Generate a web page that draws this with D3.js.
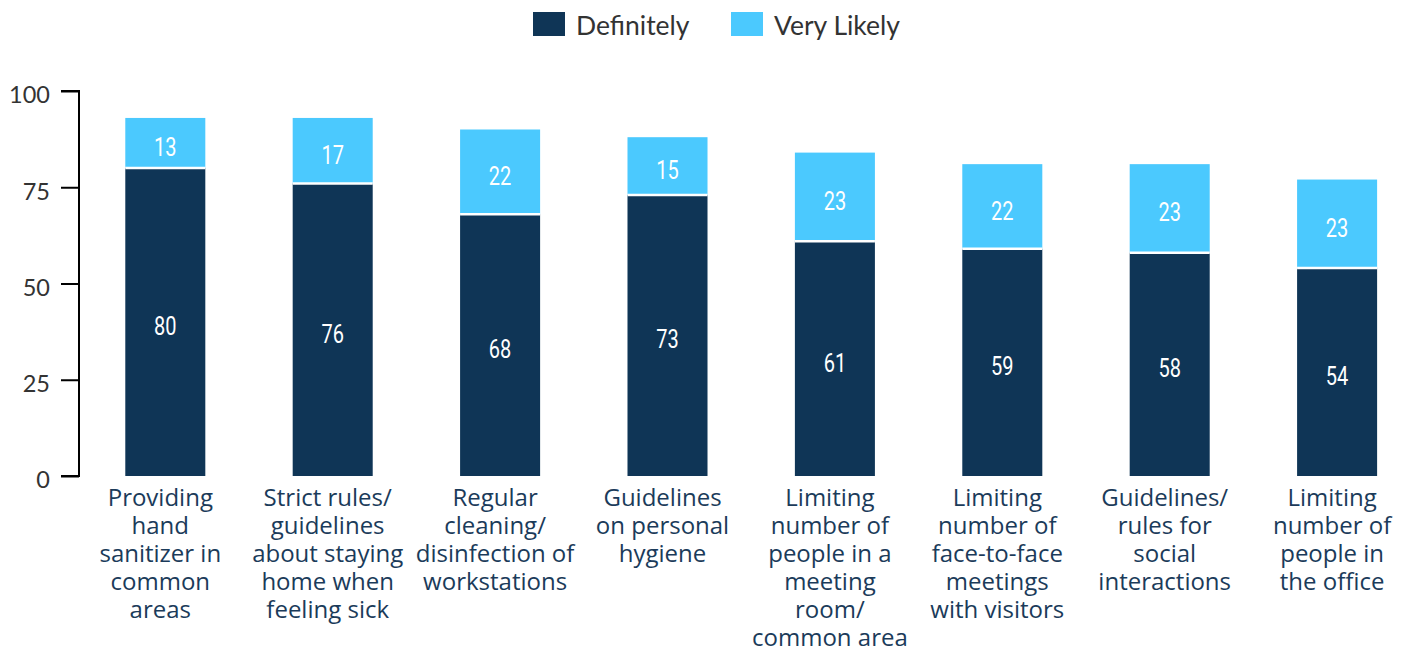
<!DOCTYPE html>
<html>
<head>
<meta charset="utf-8">
<script src="https://cdn.jsdelivr.net/npm/d3@7"></script>
<style>
	body { margin: 0; background: #fff; }
	svg { display: block; }
</style>
</head>
<body>
<svg id="chart"></svg>
<script>
var categories = [
	['Providing', 'hand', 'sanitizer in', 'common', 'areas'],
	['Strict rules/', 'guidelines', 'about staying', 'home when', 'feeling sick'],
	['Regular', 'cleaning/', 'disinfection of', 'workstations'],
	['Guidelines', 'on personal', 'hygiene'],
	['Limiting', 'number of', 'people in a', 'meeting', 'room/', 'common area'],
	['Limiting', 'number of', 'face-to-face', 'meetings', 'with visitors'],
	['Guidelines/', 'rules for', 'social', 'interactions'],
	['Limiting', 'number of', 'people in', 'the office']
];
var definitely = [80, 76, 68, 73, 61, 59, 58, 54];
var veryLikely = [13, 17, 22, 15, 23, 22, 23, 23];
var seriesNames = ['Definitely', 'Very Likely'];
var seriesColors = ['#0f3556', '#4bc9fe'];
var yTicks = [0, 25, 50, 75, 100];

window.onload = function init() {
	'use strict';

	var width = 1403,
		height = 647,
		svg = d3.select('svg#chart').attr('width', width).attr('height', height);

	var x = d3.scaleBand()
		.domain(d3.range(categories.length))
		.range([81.6, 1420.8])
		.paddingInner(0.522)
		.paddingOuter(0.261);

	var y = d3.scaleLinear().domain([0, 100]).range([476, 91]);

	// y axis
	var yAxis = svg.append('g')
		.attr('transform', 'translate(79,0)')
		.call(d3.axisLeft(y).tickValues(yTicks).tickSize(18).tickPadding(11));
	yAxis.selectAll('path, line').attr('stroke', '#000').attr('stroke-width', 2);
	yAxis.select('.domain').attr('d', 'M-18,' + y(100) + 'H0V' + y(0) + 'H-18');
	yAxis.selectAll('text')
		.attr('fill', '#333')
		.attr('dy', '0.5em')
		.style('font-family', 'Lato, sans-serif')
		.style('font-size', '23.5px');

	// stacked bars
	var rows = definitely.map(function(d, i) {
		return { i: i, segs: [
			{ i: i, s: 0, y0: 0, y1: d, v: d },
			{ i: i, s: 1, y0: d, y1: d + veryLikely[i], v: veryLikely[i] }
		] };
	});

	var groups = svg.append('g').selectAll('g.bar').data(rows).enter()
		.append('g').attr('class', 'bar');

	groups.selectAll('rect').data(function(r) { return r.segs; }).enter().append('rect')
		.attr('x', function(d) { return x(d.i); })
		.attr('width', x.bandwidth())
		.attr('y', function(d) { return y(d.y1); })
		.attr('height', function(d) { return y(d.y0) - y(d.y1); })
		.attr('fill', function(d) { return seriesColors[d.s]; });

	// white separator between the two segments
	groups.append('line')
		.attr('x1', function(d) { return x(d.i); })
		.attr('x2', function(d) { return x(d.i) + x.bandwidth(); })
		.attr('y1', function(d) { return y(definitely[d.i]); })
		.attr('y2', function(d) { return y(definitely[d.i]); })
		.attr('stroke', '#fff')
		.attr('stroke-width', 2.5);

	groups.selectAll('text').data(function(r) { return r.segs; }).enter().append('text')
		.attr('transform', function(d) {
			return 'translate(' + (x(d.i) + x.bandwidth() / 2) + ',' + ((y(d.y0) + y(d.y1)) / 2 + 4) + ') scale(0.8,1)';
		})
		.attr('dy', '0.36em')
		.attr('text-anchor', 'middle')
		.attr('fill', '#fff')
		.style('font-family', 'Roboto, sans-serif')
		.style('font-size', '25px')
		.text(function(d) { return d.v; });

	// category labels (sit a little left of the bar centre, as in the source)
	var labels = svg.append('g').selectAll('text').data(categories).enter().append('text')
		.attr('text-anchor', 'middle')
		.attr('fill', '#1b3b5a')
		.style('font-family', '"Open Sans", sans-serif')
		.style('font-size', '24px')
		.attr('transform', function(d, i) { return 'translate(' + (x(i) + x.bandwidth() / 2 - 5) + ',506)'; });
	labels.selectAll('tspan').data(function(d) { return d; }).enter().append('tspan')
		.attr('x', 0)
		.attr('y', function(d, j) { return j * 28; })
		.text(function(d) { return d; });

	// legend
	var legendX = [533, 731];
	var legend = svg.append('g').selectAll('g').data(seriesNames).enter().append('g')
		.attr('transform', function(d, i) { return 'translate(' + legendX[i] + ',12)'; });
	legend.append('rect')
		.attr('width', 32).attr('height', 24)
		.attr('fill', function(d, i) { return seriesColors[i]; });
	legend.append('text')
		.attr('x', 43).attr('y', 13).attr('dy', '0.36em')
		.attr('fill', '#333')
		.style('font-family', 'Lato, sans-serif')
		.style('font-size', '26.5px')
		.text(function(d) { return d; });
};
</script>
</body>
</html>
